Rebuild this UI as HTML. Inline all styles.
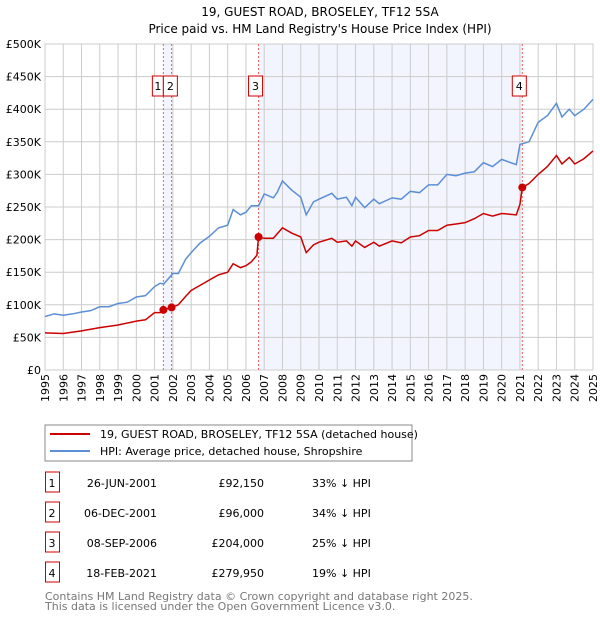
<!DOCTYPE html>
<html><head><meta charset="utf-8"><style>
body{margin:0;background:#fff;font-family:"DejaVu Sans","Liberation Sans",sans-serif;}
svg text{font-family:"DejaVu Sans","Liberation Sans",sans-serif;}
</style></head><body>
<svg id="c" width="600" height="620" xmlns="http://www.w3.org/2000/svg">
<text x="320" y="16" text-anchor="middle" font-size="12">19, GUEST ROAD, BROSELEY, TF12 5SA</text>
<text x="320" y="33" text-anchor="middle" font-size="12">Price paid vs. HM Land Registry's House Price Index (HPI)</text>
<g id="plot"></g>
<rect x="45" y="425" width="367" height="36" fill="#fff" stroke="#888"/>
<line x1="50" y1="434" x2="90" y2="434" stroke="#cc0000" stroke-width="2"/>
<text x="100" y="438" font-size="11">19, GUEST ROAD, BROSELEY, TF12 5SA (detached house)</text>
<line x1="50" y1="451" x2="90" y2="451" stroke="#5b8fd6" stroke-width="2"/>
<text x="100" y="455" font-size="11">HPI: Average price, detached house, Shropshire</text>
<g id="table" font-size="11"></g>
<text x="45" y="600" font-size="11" fill="#777">Contains HM Land Registry data © Crown copyright and database right 2025.</text>
<text x="45" y="610" font-size="11" fill="#777">This data is licensed under the Open Government Licence v3.0.</text>
</svg>
<script>
const hpiYears=[1995,1995.5,1996,1996.5,1997,1997.5,1998,1998.5,1999,1999.5,2000,2000.5,2001,2001.3,2001.5,2002,2002.3,2002.7,2003,2003.5,2004,2004.5,2005,2005.3,2005.7,2006,2006.3,2006.7,2007,2007.5,2007.7,2008,2008.5,2009,2009.3,2009.7,2010,2010.7,2011,2011.5,2011.8,2012,2012.5,2013,2013.3,2014,2014.5,2015,2015.5,2016,2016.5,2017,2017.5,2018,2018.5,2019,2019.5,2020,2020.8,2021,2021.5,2022,2022.5,2023,2023.3,2023.7,2024,2024.5,2025];
const hpiValues=[82,86,84,86,89,91,97,97,102,104,112,114,128,133,132,148,148,170,180,195,205,218,222,246,238,242,252,252,270,264,272,290,276,265,238,258,262,271,262,265,252,265,249,262,255,264,262,274,272,284,284,300,298,302,304,318,312,323,315,346,350,380,390,409,388,400,390,400,415];
const redYears=[1995,1996,1997,1998,1999,2000,2000.5,2001,2001.3,2001.48,2001.93,2002.3,2002.7,2003,2003.5,2004,2004.5,2005,2005.3,2005.7,2006,2006.3,2006.6,2006.69,2007,2007.5,2008,2008.5,2009,2009.3,2009.7,2010,2010.7,2011,2011.5,2011.8,2012,2012.5,2013,2013.3,2014,2014.5,2015,2015.5,2016,2016.5,2017,2017.5,2018,2018.5,2019,2019.5,2020,2020.8,2021.0,2021.13,2021.5,2022,2022.5,2023,2023.3,2023.7,2024,2024.5,2025];
const redValues=[57,56,60,65,69,75,77,88,88,92.15,96,100,113,122,130,138,146,150,163,157,160,166,176,204,202,202,218,210,204,180,192,196,202,196,198,190,198,188,196,190,198,195,204,206,214,214,222,224,226,232,240,236,240,238,254,279.95,286,300,312,329,316,326,316,324,336];
const saleYears=[2001.48,2001.93,2006.69,2021.13];
const saleValues=[92.15,96,204,279.95];
const saleLabels=["1","2","3","4"];
const saleDates=["26-JUN-2001","06-DEC-2001","08-SEP-2006","18-FEB-2021"];
const salePrices=["£92,150","£96,000","£204,000","£279,950"];
const saleDiffs=["33% ↓ HPI","34% ↓ HPI","25% ↓ HPI","19% ↓ HPI"];
const yTicks=[0,50,100,150,200,250,300,350,400,450,500];
const yTickLabels=["£0","£50K","£100K","£150K","£200K","£250K","£300K","£350K","£400K","£450K","£500K"];
const xTicks=[1995,1996,1997,1998,1999,2000,2001,2002,2003,2004,2005,2006,2007,2008,2009,2010,2011,2012,2013,2014,2015,2016,2017,2018,2019,2020,2021,2022,2023,2024,2025];

const NS="http://www.w3.org/2000/svg";
const X0=45,X1=593,Y0=370,Y1=44;
const xs=y=>X0+(y-1995)/30*(X1-X0);
const ys=v=>Y0-v/500*(Y0-Y1);
const plot=document.getElementById('plot');
function mk(tag,attrs,parent){const e=document.createElementNS(NS,tag);for(const k in attrs)e.setAttribute(k,attrs[k]);(parent||plot).appendChild(e);return e;}
for(let i=0;i<saleYears.length;i+=2){
  const r=mk('rect',{x:xs(saleYears[i]),y:Y1,width:xs(saleYears[i+1])-xs(saleYears[i]),height:Y0-Y1,fill:'#f2f5fd'});
  
  
}
xTicks.forEach((t,i)=>{
  const l=mk('line',{x1:xs(t),x2:xs(t),y1:Y1,y2:Y0,stroke:'#ccc'});
  
  
  const tx=mk('text',{x:0,y:0,'font-size':11,'text-anchor':'end',transform:`translate(${xs(t)+4},${Y0+4}) rotate(-90)`});
  tx.textContent=t;
  
  
});
yTicks.forEach((t,i)=>{
  const l=mk('line',{x1:X0,x2:X1,y1:ys(t),y2:ys(t),stroke:'#ccc'});
  
  
  const tx=mk('text',{x:X0-4,y:ys(t)+4,'font-size':11,'text-anchor':'end'});
  tx.textContent=yTickLabels[i];
  
  
});
const fr=mk('rect',{x:X0,y:Y1,width:X1-X0,height:Y0-Y1,fill:'none',stroke:'#ccc'});


saleYears.forEach((s,i)=>{
  const l=mk('line',{x1:xs(s),x2:xs(s),y1:Y1,y2:Y0,stroke:'#f06060','stroke-dasharray':'2,2'});
  
  
});
const hp=mk('polyline',{points:hpiYears.map((y,i)=>xs(y)+','+ys(hpiValues[i])).join(' '),fill:'none',stroke:'#5b8fd6','stroke-width':1.5});


const rp=mk('polyline',{points:redYears.map((y,i)=>xs(y)+','+ys(redValues[i])).join(' '),fill:'none',stroke:'#cc0000','stroke-width':1.5});


saleYears.forEach((s,i)=>{
  const c=mk('circle',{cx:xs(s),cy:ys(saleValues[i]),r:4,fill:'#cc0000'});
  
  
  let bx,bw;
  if(i===0){bw=11;bx=xs(s)-11;}
  else if(i===1){bw=14;bx=xs(saleYears[0]);}
  else {bw=14;bx=xs(s)-10;}
  const b=mk('rect',{x:bx,y:76,width:bw,height:20,fill:'#fff',stroke:'#cc0000'});
  
  
  const t=mk('text',{x:bx+bw/2,y:90,'font-size':11,'text-anchor':'middle'});
  t.textContent=saleLabels[i];
  
  
});
const tb=document.getElementById('table');
saleLabels.forEach((lab,i)=>{
  const y=483+i*30;
  const b=mk('rect',{x:45.5,y:y-11,width:14,height:20,fill:'#fff',stroke:'#cc0000'},tb);
  
  
  const vals=[[52,'middle',lab],[157,'end',saleDates[i]],[264,'end',salePrices[i]],[312,'start',saleDiffs[i]]];
  const names=['table-row-number','table-row-date','table-row-price','table-row-diff'];
  vals.forEach((v,j)=>{
    const t=mk('text',{x:v[0],y:y+4,'text-anchor':v[1]},tb);
    t.textContent=v[2];
    
    
  });
});
</script>
</body></html>
